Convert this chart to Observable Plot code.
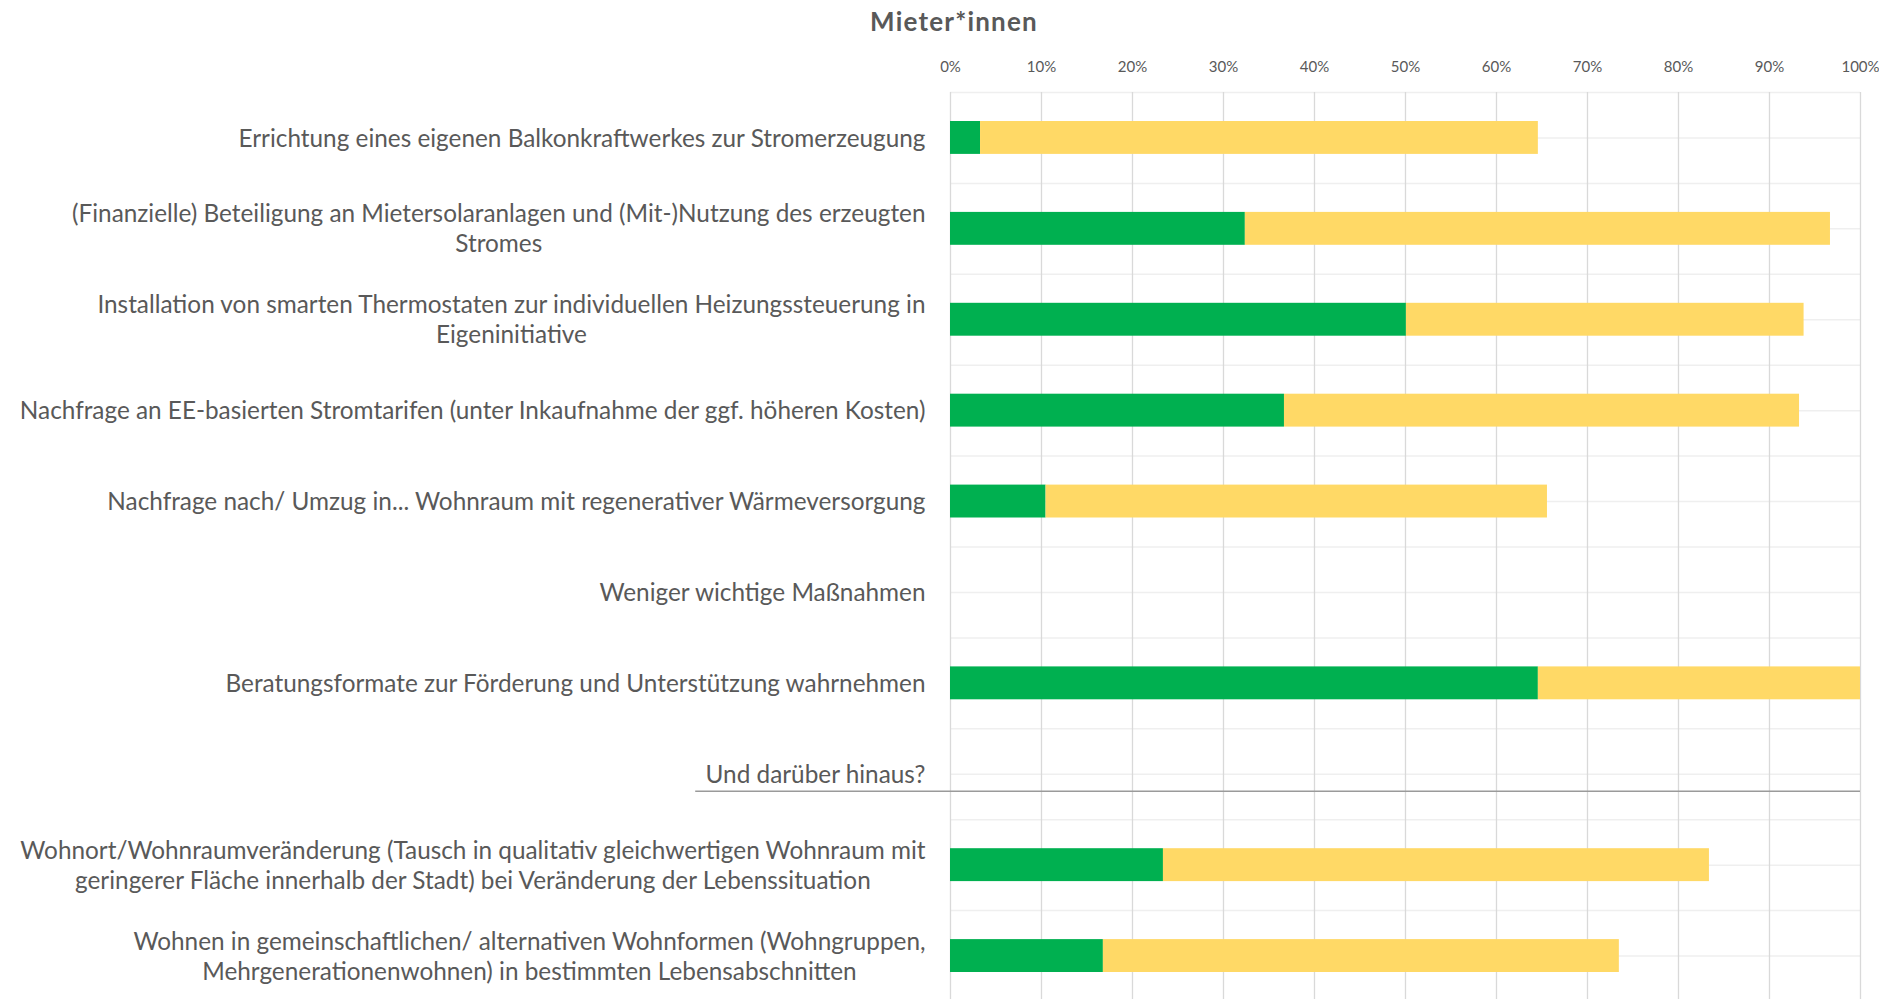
<!DOCTYPE html>
<html>
<head>
<meta charset="utf-8">
<script src="https://cdn.jsdelivr.net/npm/d3@7"></script>
<script src="https://cdn.jsdelivr.net/npm/@observablehq/plot@0.6"></script>
<style>
  html, body { margin: 0; padding: 0; background: #fff; overflow: hidden; width: 1879px; height: 999px; }
  #chart { position: relative; width: 1879px; height: 999px; }
  #chart svg { position: absolute; left: 0; top: 0; }
  #title { position: absolute; top: 6px; left: 954px; transform: translateX(-50%); font: bold 26px/31px Lato, "Noto Sans", sans-serif; letter-spacing: 1.2px; color: #595959; white-space: nowrap; z-index: 2; }
</style>
</head>
<body>
<div id="chart"><div id="title">Mieter*innen</div></div>
<script>
// ---- data ----
const categories = [
  "Errichtung eines eigenen Balkonkraftwerkes zur Stromerzeugung",
  "(Finanzielle) Beteiligung an Mietersolaranlagen und (Mit-)Nutzung des erzeugten\nStromes",
  "Installation von smarten Thermostaten zur individuellen Heizungssteuerung in\nEigeninitiative",
  "Nachfrage an EE-basierten Stromtarifen (unter Inkaufnahme der ggf. höheren Kosten)",
  "Nachfrage nach/ Umzug in... Wohnraum mit regenerativer Wärmeversorgung",
  "Weniger wichtige Maßnahmen",
  "Beratungsformate zur Förderung und Unterstützung wahrnehmen",
  "Und darüber hinaus?",
  "Wohnort/Wohnraumveränderung (Tausch in qualitativ gleichwertigen Wohnraum mit\ngeringerer Fläche innerhalb der Stadt) bei Veränderung der Lebenssituation",
  "Wohnen in gemeinschaftlichen/ alternativen Wohnformen (Wohngruppen,\nMehrgenerationenwohnen) in bestimmten Lebensabschnitten"
];
const seriesNames = ["Serie 1", "Serie 2"];
const greenValues  = [3.3, 32.4, 50.1, 36.7, 10.5, null, 64.6, null, 23.4, 16.8];
const yellowValues = [61.3, 64.3, 43.7, 56.6, 55.1, null, 35.4, null, 60.0, 56.7];
const xTicks = [0, 10, 20, 30, 40, 50, 60, 70, 80, 90, 100];
const separatorRow = "Und darüber hinaus?";
const separatorStart = -28;

// ---- table ----
const table = [];
categories.forEach((c, i) => {
  if (greenValues[i] != null) table.push({category: c, series: seriesNames[0], value: greenValues[i]});
  if (yellowValues[i] != null) table.push({category: c, series: seriesNames[1], value: yellowValues[i]});
});

const fontFamily = "Lato, 'Noto Sans', sans-serif";
// fit label font so the longest single-line label matches the reference width
const ctx = document.createElement("canvas").getContext("2d");
ctx.font = "100px Lato";
let labelSize = 100 * 907 / ctx.measureText(categories[3]).width;
if (!isFinite(labelSize) || labelSize < 12 || labelSize > 30) labelSize = 21;

const H = 1001, MT = 92, MB = 0;
const bw = (H - MT - MB) / categories.length;

const plot = Plot.plot({
  width: 1879,
  height: H,
  marginLeft: 950,
  marginRight: 19,
  marginTop: MT,
  marginBottom: MB,
  style: {fontFamily, color: "#595959", background: "transparent", overflow: "visible"},
  x: {domain: [0, 100], label: null},
  y: {domain: categories, padding: 0, round: false, label: null},
  color: {domain: seriesNames, range: ["#00B050", "#FFD966"]},
  marks: [
    Plot.ruleY(categories, {y: d => d, stroke: "#EFEFEF", strokeWidth: 1.5, dy: -bw / 2}),
    Plot.ruleY(categories, {y: d => d, stroke: "#EFEFEF", strokeWidth: 1.5}),
    Plot.gridX({ticks: xTicks, stroke: "#D9D9D9", strokeOpacity: 1, strokeWidth: 1.3}),
    Plot.barX(table, Plot.stackX({x: "value", y: "category", fill: "series", order: seriesNames, insetTop: 29, insetBottom: 29})),
    Plot.ruleY([separatorRow], {y: d => d, x1: separatorStart, x2: 100, dy: 17, stroke: "#9A9A9A", strokeWidth: 1.6}),
    Plot.axisX({anchor: "top", ticks: xTicks, tickFormat: d => d + "%", tickSize: 0, tickPadding: 21, fontSize: 15, label: null}),
    Plot.axisY({tickSize: 0, tickPadding: 25, fontSize: labelSize, lineHeight: 30 / labelSize, textAnchor: "end", dy: -1, label: null})
  ]
});
document.getElementById("chart").appendChild(plot);

// center wrapped lines within their right-aligned block (like the original)
plot.querySelectorAll('g[aria-label="y-axis tick label"] text').forEach(t => {
  const spans = Array.from(t.querySelectorAll("tspan"));
  if (spans.length > 1) {
    const widths = spans.map(s => s.getComputedTextLength());
    const W = Math.max(...widths);
    spans.forEach(s => {
      const x0 = parseFloat(s.getAttribute("x") || "0");
      s.setAttribute("x", x0 - W / 2);
      s.setAttribute("text-anchor", "middle");
    });
  }
});
</script>
</body>
</html>
